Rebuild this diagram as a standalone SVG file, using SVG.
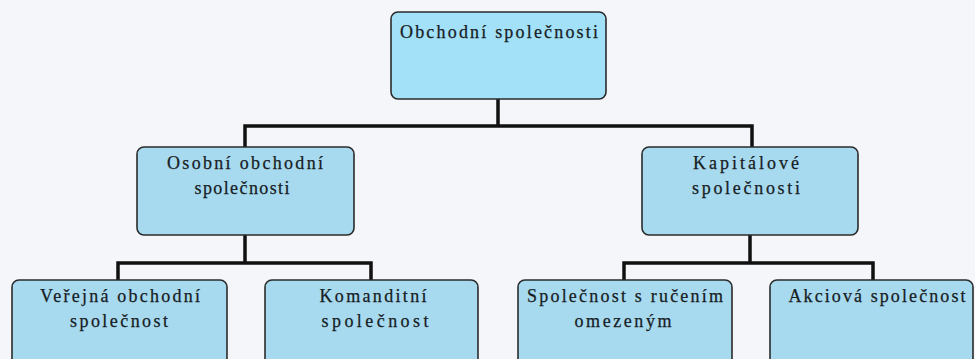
<svg xmlns="http://www.w3.org/2000/svg" width="975" height="359" viewBox="0 0 975 359">
  <style>
    .box { fill: #a7daef; stroke: #2b2b2b; stroke-width: 1.6; }
    .top { fill: #a3e1f9; }
    .lbl { font-family: "Liberation Serif", "DejaVu Serif", serif; font-size: 18px; fill: #17201f; stroke: #17201f; stroke-width: 0.25; }
    .c { text-anchor: middle; }
    .conn { stroke: #111; stroke-width: 3.5; fill: none; stroke-linecap: square; }
  </style>
  <rect width="975" height="359" fill="#f4f6fa"/>
  <g id="connectors">
    <path class="conn" d="M498 98 V126 M245 126 H752 M245 126 V147 M752 126 V147"/>
    <path class="conn" d="M245 235 V263 M118 263 H371 M118 263 V280 M371 263 V280"/>
    <path class="conn" d="M750 235 V263 M624 263 H873 M624 263 V280 M873 263 V280"/>
  </g>
  <g id="n-obchodni">
    <rect class="box top" x="391" y="12" width="215" height="87" rx="7"/>
    <text class="lbl" x="400" y="38" textLength="198" lengthAdjust="spacing">Obchodní společnosti</text>
  </g>
  <g id="n-osobni">
    <rect class="box" x="137" y="147" width="217" height="88" rx="7"/>
    <text class="lbl c" x="245" y="169" textLength="156" lengthAdjust="spacing">Osobní obchodní</text>
    <text class="lbl c" x="242" y="194" textLength="95" lengthAdjust="spacing">společnosti</text>
  </g>
  <g id="n-kapitalove">
    <rect class="box" x="642" y="147" width="216" height="88" rx="7"/>
    <text class="lbl c" x="746" y="169" textLength="106" lengthAdjust="spacing">Kapitálové</text>
    <text class="lbl c" x="746" y="194" textLength="108" lengthAdjust="spacing">společnosti</text>
  </g>
  <g id="n-vos">
    <rect class="box" x="12" y="280" width="215" height="95" rx="7"/>
    <text class="lbl c" x="120" y="302" textLength="160" lengthAdjust="spacing">Veřejná obchodní</text>
    <text class="lbl c" x="119" y="327" textLength="98" lengthAdjust="spacing">společnost</text>
  </g>
  <g id="n-ks">
    <rect class="box" x="265" y="280" width="213" height="95" rx="7"/>
    <text class="lbl c" x="373" y="302" textLength="107" lengthAdjust="spacing">Komanditní</text>
    <text class="lbl c" x="375" y="327" textLength="107" lengthAdjust="spacing">společnost</text>
  </g>
  <g id="n-sro">
    <rect class="box" x="518" y="280" width="214" height="95" rx="7"/>
    <text class="lbl c" x="625" y="302" textLength="196" lengthAdjust="spacing">Společnost s ručením</text>
    <text class="lbl c" x="623" y="327" textLength="97" lengthAdjust="spacing">omezeným</text>
  </g>
  <g id="n-as">
    <rect class="box" x="770" y="280" width="203" height="95" rx="7"/>
    <text class="lbl c" x="877" y="302" textLength="177" lengthAdjust="spacing">Akciová společnost</text>
  </g>
</svg>
